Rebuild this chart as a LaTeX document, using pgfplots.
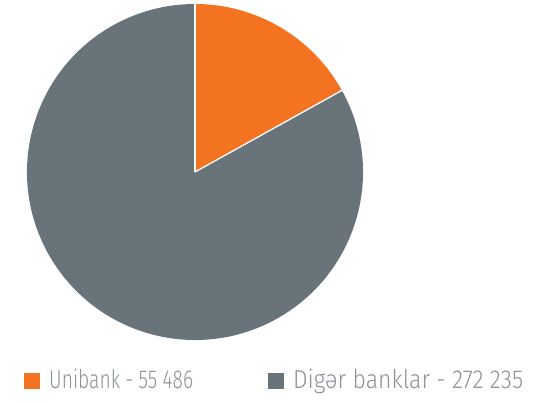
\documentclass[border=0pt]{standalone}
\usepackage{pgfplots}
\pgfplotsset{compat=1.18}
\usepackage{fontspec}
\setmainfont{Fira Sans Light}
\definecolor{uniorange}{HTML}{F47321}
\definecolor{othergray}{HTML}{69737A}
\definecolor{legtext}{HTML}{8C9399}

\begin{document}
\begin{tikzpicture}
% values (in thousands, to keep pgfmath in range)
\def\vUni{55.486}
\def\vOther{272.235}
\pgfmathsetmacro{\angUni}{360*(\vUni/(\vUni+\vOther))}
\begin{axis}[
    scale only axis,
    width=549bp, height=403bp,
    xmin=0, xmax=549, ymin=0, ymax=403,
    hide axis,
    clip=false,
]
% pie, centre at (195,231), radius 168
\fill[othergray] (axis cs:195,231) -- ++(90-\angUni:168bp)
    arc[start angle=90-\angUni, end angle=-270, radius=168bp] -- cycle;
\fill[uniorange] (axis cs:195,231) -- ++(90:168bp)
    arc[start angle=90, end angle=90-\angUni, radius=168bp] -- cycle;
\draw[white, line width=1.3bp] (axis cs:195,231) -- ++(90:168.5bp);
\draw[white, line width=1.3bp] (axis cs:195,231) -- ++(90-\angUni:168.5bp);

% legend
\fill[uniorange] (axis cs:24,14) rectangle (axis cs:40,30);
\fill[othergray] (axis cs:268,14) rectangle (axis cs:284,30);
\node[anchor=base west, inner sep=0, text=legtext, font=\fontsize{26}{28}\selectfont]
    at (axis cs:49,14) {\resizebox{144bp}{\height}{Unibank - 55 486}};
\node[anchor=base west, inner sep=0, text=legtext, font=\fontsize{26}{28}\selectfont]
    at (axis cs:293,14) {\resizebox{230bp}{\height}{Digər banklar - 272 235}};
\end{axis}
\pgfresetboundingbox
\path (current axis.south west) rectangle (current axis.north east);
\end{tikzpicture}
\end{document}
